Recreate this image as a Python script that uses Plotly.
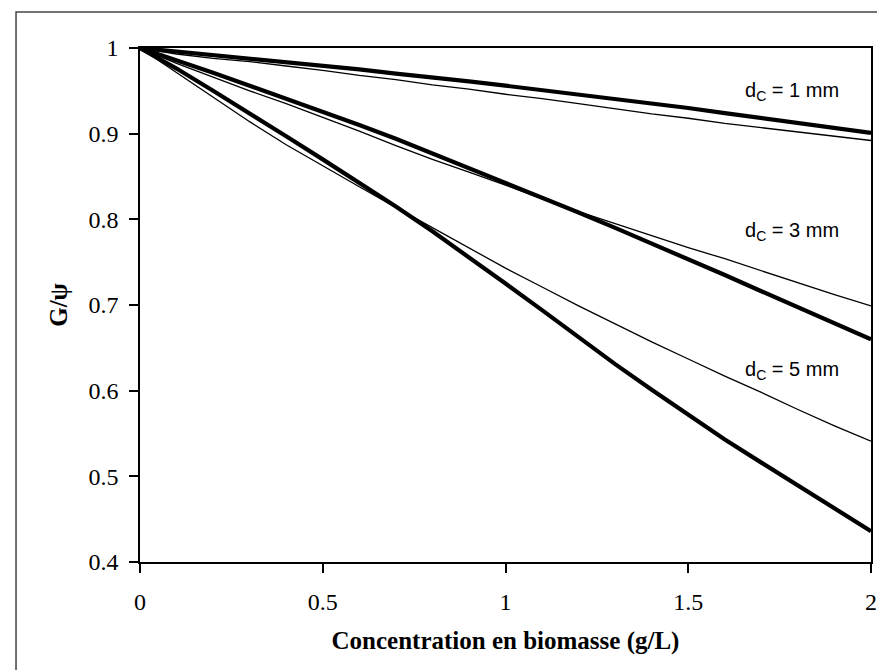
import plotly.graph_objects as go

# biomass concentration (g/L)
x_conc = [0.0, 0.1, 0.2, 0.3, 0.4, 0.5, 0.6, 0.7, 0.8, 0.9, 1.0,
          1.1, 1.2, 1.3, 1.4, 1.5, 1.6, 1.7, 1.8, 1.9, 2.0]

# thick curves
thick_d1 = [1.000, 0.996, 0.992, 0.988, 0.984, 0.979, 0.975, 0.970, 0.966, 0.961, 0.956,
            0.951, 0.946, 0.940, 0.935, 0.930, 0.924, 0.918, 0.913, 0.907, 0.901]
thick_d3 = [1.000, 0.986, 0.971, 0.956, 0.941, 0.926, 0.910, 0.894, 0.877, 0.860, 0.843,
            0.826, 0.808, 0.790, 0.772, 0.754, 0.735, 0.716, 0.697, 0.679, 0.660]
thick_d5 = [1.000, 0.976, 0.950, 0.924, 0.897, 0.870, 0.843, 0.815, 0.786, 0.756, 0.725,
            0.694, 0.662, 0.631, 0.601, 0.572, 0.543, 0.516, 0.489, 0.462, 0.436]

# thin curves
thin_d1 = [1.000, 0.993, 0.988, 0.984, 0.979, 0.974, 0.968, 0.963, 0.957, 0.952, 0.946,
           0.941, 0.935, 0.929, 0.923, 0.918, 0.912, 0.907, 0.902, 0.897, 0.892]
thin_d3 = [1.000, 0.982, 0.966, 0.950, 0.935, 0.919, 0.903, 0.886, 0.870, 0.855, 0.840,
           0.824, 0.809, 0.795, 0.781, 0.767, 0.754, 0.740, 0.726, 0.712, 0.699]
thin_d5 = [1.000, 0.971, 0.942, 0.914, 0.887, 0.862, 0.838, 0.814, 0.790, 0.766, 0.743,
           0.721, 0.699, 0.678, 0.657, 0.637, 0.617, 0.598, 0.578, 0.559, 0.541]

label_text = ["d<sub>C</sub> = 1 mm", "d<sub>C</sub> = 3 mm", "d<sub>C</sub> = 5 mm"]
label_y = [0.949, 0.786, 0.623]
label_x = 1.65

x_ticks = [0, 0.5, 1, 1.5, 2]
x_ticktext = ["0", "0.5", "1", "1.5", "2"]
y_ticks = [0.4, 0.5, 0.6, 0.7, 0.8, 0.9, 1.0]
y_ticktext = ["0.4", "0.5", "0.6", "0.7", "0.8", "0.9", "1"]

SERIF = "Liberation Serif, Times New Roman, serif"
SANS = "Liberation Sans, Arial, sans-serif"

fig = go.Figure()

for ys in (thin_d1, thin_d3, thin_d5):
    fig.add_trace(go.Scatter(x=x_conc, y=ys, mode="lines",
                             line={"color": "black", "width": 1.3}))
for ys in (thick_d1, thick_d3, thick_d5):
    fig.add_trace(go.Scatter(x=x_conc, y=ys, mode="lines",
                             line={"color": "black", "width": 4.2}))

for txt, yy in zip(label_text, label_y):
    fig.add_annotation(x=label_x, y=yy, text=txt, showarrow=False,
                       xanchor="left", yanchor="middle",
                       font={"family": SANS, "size": 20, "color": "black"})

# outer frame around the whole chart
fig.add_shape(type="rect", xref="paper", yref="paper",
              x0=-0.1696, x1=1.0246, y0=-0.2237, y1=1.070,
              line={"color": "#444444", "width": 1.5})

axis_common = dict(
    showline=True, mirror=True, linecolor="black", linewidth=1.5,
    ticks="outside", ticklen=9, tickwidth=1.5, tickcolor="black",
    showgrid=False, zeroline=False,
    tickfont={"family": SERIF, "size": 24, "color": "black"},
)

fig.update_xaxes(
    range=[0, 2], tickvals=x_ticks, ticktext=x_ticktext,
    ticklabelstandoff=8,
    title={"text": "<b>Concentration en biomasse (g/L)</b>", "standoff": 18,
           "font": {"family": SERIF, "size": 25, "color": "black"}},
    **axis_common,
)
fig.update_yaxes(
    range=[0.4, 1.0], tickvals=y_ticks, ticktext=y_ticktext,
    ticklabelstandoff=6,
    title={"text": "<b>G/ψ</b>", "standoff": 14,
           "font": {"family": SERIF, "size": 25, "color": "black"}},
    **axis_common,
)

fig.update_layout(
    width=885, height=670,
    margin={"l": 132, "r": 22, "t": 40, "b": 116},
    paper_bgcolor="white", plot_bgcolor="white",
    showlegend=False,
)

fig.write_html("out.html")
